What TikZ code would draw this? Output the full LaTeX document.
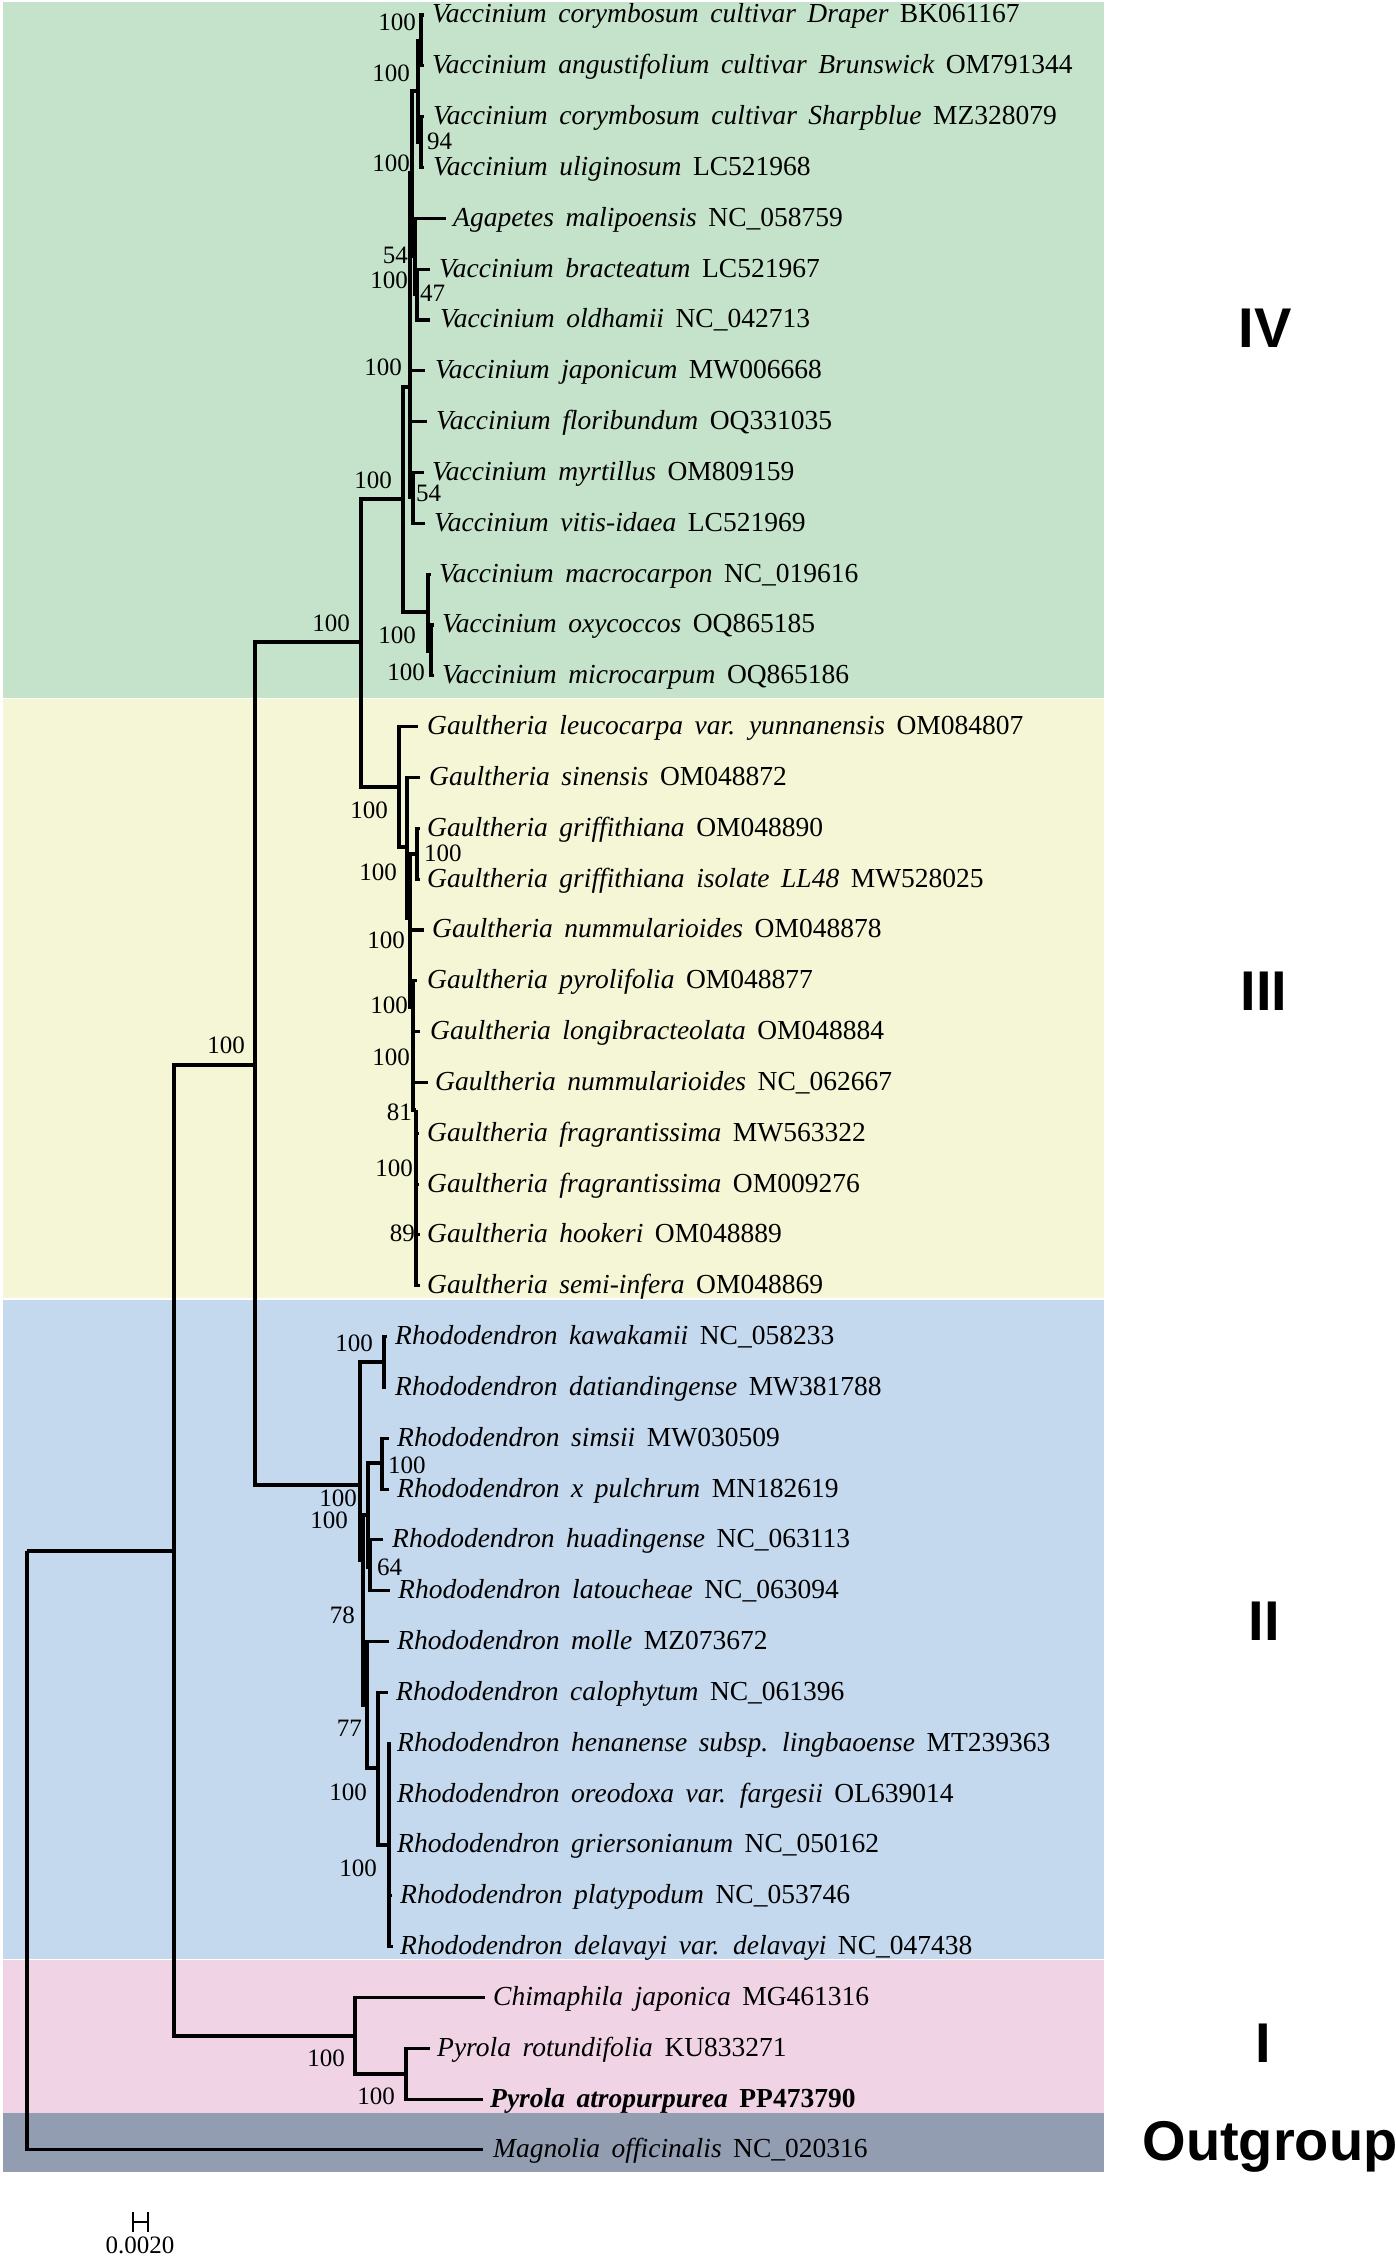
\documentclass[tikz,border=0pt]{standalone}
\usepackage{fontspec}
\setmainfont{Liberation Serif}
\newfontfamily\hvfont{Liberation Sans}
\definecolor{cIV}{RGB}{197,227,203}
\definecolor{cIII}{RGB}{245,246,213}
\definecolor{cII}{RGB}{196,216,238}
\definecolor{cI}{RGB}{240,212,230}
\definecolor{cOut}{RGB}{146,157,178}
\newcommand\leaffont{\fontsize{27.5}{30}\selectfont\spaceskip=0.42em plus 0.05em\relax}
\newcommand\Y[1]{15+50.83*#1}
\newcommand\lfnode[5]{\node[leaf] (#1) at (#2,\Y{#3}+8) {{\itshape #4} #5};}
\tikzset{
  br/.style={line width=3.1pt, line join=miter},
  leaf/.style={anchor=base west, inner sep=0pt, font=\leaffont},
  bs/.style={inner sep=0pt, font=\fontsize{25}{25}\selectfont},
  clade/.style={anchor=base, inner sep=0pt, font=\hvfont\bfseries\fontsize{56}{56}\selectfont},
}
\begin{document}
\begin{tikzpicture}[x=1pt,y=-1pt]
\useasboundingbox (0,0) rectangle (1396,2256);
% background bands
\fill[cIV] (3,2) rectangle (1104,698);
\fill[cIII] (3,699) rectangle (1104,1298);
\fill[cII] (3,1300) rectangle (1104,1959);
\fill[cI] (3,1960) rectangle (1104,2113);
\fill[cOut] (3,2113) rectangle (1104,2172);
% internal nodes
\coordinate (root) at (27,1551);
\coordinate (ING) at (174,1551);
\coordinate (A) at (255,1065);
\coordinate (P) at (355,2036);
\coordinate (B) at (361,642);
\coordinate (R0) at (360,1485);
\coordinate (C) at (403,499);
\coordinate (G0) at (399,787);
\coordinate (D) at (410,387);
\coordinate (E) at (428,612);
\coordinate (NU) at (412,173);
\coordinate (Nmy) at (413,497);
\coordinate (N12) at (418,91);
\coordinate (NAg) at (415,256);
\coordinate (N1) at (421,41);
\coordinate (N2) at (421,142);
\coordinate (Nab) at (417,294);
\coordinate (F) at (431,651);
\coordinate (G1) at (407,847);
\coordinate (G2) at (410,918);
\coordinate (Ngr) at (417,854);
\coordinate (G3) at (413,1007);
\coordinate (G4) at (416,1110);
\coordinate (R1) at (384,1362);
\coordinate (R5) at (363,1560);
\coordinate (R2) at (368,1515);
\coordinate (R3) at (382,1463);
\coordinate (R4) at (370,1567);
\coordinate (R6) at (367,1705);
\coordinate (R7) at (378,1768);
\coordinate (R8) at (389,1845);
\coordinate (PP) at (406,2074);
% tips
\coordinate (t0) at (424,\Y{0});
\coordinate (t1) at (424,\Y{1});
\coordinate (t2) at (424,\Y{2});
\coordinate (t3) at (424,\Y{3});
\coordinate (t4) at (446,\Y{4});
\coordinate (t5) at (430,\Y{5});
\coordinate (t6) at (430,\Y{6});
\coordinate (t7) at (425,\Y{7});
\coordinate (t8) at (427,\Y{8});
\coordinate (t9) at (424,\Y{9});
\coordinate (t10) at (425,\Y{10});
\coordinate (t11) at (431,\Y{11});
\coordinate (t12) at (434,\Y{12});
\coordinate (t13) at (434,\Y{13});
\coordinate (t14) at (418,\Y{14});
\coordinate (t15) at (420,\Y{15});
\coordinate (t16) at (420,\Y{16});
\coordinate (t17) at (420,\Y{17});
\coordinate (t18) at (424,\Y{18});
\coordinate (t19) at (417,\Y{19});
\coordinate (t20) at (420,\Y{20});
\coordinate (t21) at (428,\Y{21});
\coordinate (t22) at (419,\Y{22});
\coordinate (t23) at (419,\Y{23});
\coordinate (t24) at (420,\Y{24});
\coordinate (t25) at (420,\Y{25});
\coordinate (t26) at (387,\Y{26});
\coordinate (t27) at (386,\Y{27});
\coordinate (t28) at (389,\Y{28});
\coordinate (t29) at (389,\Y{29});
\coordinate (t30) at (383,\Y{30});
\coordinate (t31) at (390,\Y{31});
\coordinate (t32) at (389,\Y{32});
\coordinate (t33) at (388,\Y{33});
\coordinate (t34) at (391,\Y{34});
\coordinate (t35) at (390,\Y{35});
\coordinate (t36) at (391,\Y{36});
\coordinate (t37) at (392,\Y{37});
\coordinate (t38) at (393,\Y{38});
\coordinate (t39) at (485,\Y{39});
\coordinate (t40) at (430,\Y{40});
\coordinate (t41) at (483,\Y{41});
\coordinate (t42) at (483,\Y{42});
% branches
\draw[br] (root) |- (ING) (root) |- (t42);
\draw[br] (ING) |- (A) (ING) |- (P);
\draw[br] (A) |- (B) (A) |- (R0);
\draw[br] (B) |- (C) (B) |- (G0);
\draw[br] (C) |- (D) (C) |- (E);
\draw[br] (D) |- (NU) (D) |- (t7) (D) |- (t8) (D) |- (Nmy);
\draw[br] (NU) |- (N12) (NU) |- (NAg);
\draw[br] (N12) |- (N1) (N12) |- (N2);
\draw[br] (N1) |- (t0) (N1) |- (t1);
\draw[br] (N2) |- (t2) (N2) |- (t3);
\draw[br] (NAg) |- (t4) (NAg) |- (Nab);
\draw[br] (Nab) |- (t5) (Nab) |- (t6);
\draw[br] (Nmy) |- (t9) (Nmy) |- (t10);
\draw[br] (E) |- (t11) (E) |- (F);
\draw[br] (F) |- (t12) (F) |- (t13);
\draw[br] (G0) |- (t14) (G0) |- (G1);
\draw[br] (G1) |- (t15) (G1) |- (G2);
\draw[br] (G2) |- (Ngr) (G2) |- (t18) (G2) |- (G3);
\draw[br] (Ngr) |- (t16) (Ngr) |- (t17);
\draw[br] (G3) |- (t19) (G3) |- (t20) (G3) |- (t21) (G3) |- (G4);
\draw[br] (G4) |- (t22) (G4) |- (t23) (G4) |- (t24) (G4) |- (t25);
\draw[br] (R0) |- (R1) (R0) |- (R5);
\draw[br] (R1) |- (t26) (R1) |- (t27);
\draw[br] (R5) |- (R2) (R5) |- (R6);
\draw[br] (R2) |- (R3) (R2) |- (R4);
\draw[br] (R3) |- (t28) (R3) |- (t29);
\draw[br] (R4) |- (t30) (R4) |- (t31);
\draw[br] (R6) |- (t32) (R6) |- (R7);
\draw[br] (R7) |- (t33) (R7) |- (R8);
\draw[br] (R8) |- (t34) (R8) |- (t35) (R8) |- (t36) (R8) |- (t37) (R8) |- (t38);
\draw[br] (P) |- (t39) (P) |- (PP);
\draw[br] (PP) |- (t40) (PP) |- (t41);
% leaf labels
\lfnode{l0}{432}{0}{Vaccinium corymbosum cultivar Draper}{BK061167}
\lfnode{l1}{432}{1}{Vaccinium angustifolium cultivar Brunswick}{OM791344}
\lfnode{l2}{433}{2}{Vaccinium corymbosum cultivar Sharpblue}{MZ328079}
\lfnode{l3}{433}{3}{Vaccinium uliginosum}{LC521968}
\lfnode{l4}{453}{4}{Agapetes malipoensis}{NC\_058759}
\lfnode{l5}{439}{5}{Vaccinium bracteatum}{LC521967}
\lfnode{l6}{440}{6}{Vaccinium oldhamii}{NC\_042713}
\lfnode{l7}{435}{7}{Vaccinium japonicum}{MW006668}
\lfnode{l8}{436}{8}{Vaccinium floribundum}{OQ331035}
\lfnode{l9}{432}{9}{Vaccinium myrtillus}{OM809159}
\lfnode{l10}{434}{10}{Vaccinium vitis-idaea}{LC521969}
\lfnode{l11}{439}{11}{Vaccinium macrocarpon}{NC\_019616}
\lfnode{l12}{442}{12}{Vaccinium oxycoccos}{OQ865185}
\lfnode{l13}{442}{13}{Vaccinium microcarpum}{OQ865186}
\lfnode{l14}{427}{14}{Gaultheria leucocarpa var. yunnanensis}{OM084807}
\lfnode{l15}{429}{15}{Gaultheria sinensis}{OM048872}
\lfnode{l16}{427}{16}{Gaultheria griffithiana}{OM048890}
\lfnode{l17}{427}{17}{Gaultheria griffithiana isolate LL48}{MW528025}
\lfnode{l18}{432}{18}{Gaultheria nummularioides}{OM048878}
\lfnode{l19}{427}{19}{Gaultheria pyrolifolia}{OM048877}
\lfnode{l20}{430}{20}{Gaultheria longibracteolata}{OM048884}
\lfnode{l21}{435}{21}{Gaultheria nummularioides}{NC\_062667}
\lfnode{l22}{427}{22}{Gaultheria fragrantissima}{MW563322}
\lfnode{l23}{427}{23}{Gaultheria fragrantissima}{OM009276}
\lfnode{l24}{427}{24}{Gaultheria hookeri}{OM048889}
\lfnode{l25}{427}{25}{Gaultheria semi-infera}{OM048869}
\lfnode{l26}{395}{26}{Rhododendron kawakamii}{NC\_058233}
\lfnode{l27}{395}{27}{Rhododendron datiandingense}{MW381788}
\lfnode{l28}{397}{28}{Rhododendron simsii}{MW030509}
\lfnode{l29}{397}{29}{Rhododendron x pulchrum}{MN182619}
\lfnode{l30}{392}{30}{Rhododendron huadingense}{NC\_063113}
\lfnode{l31}{398}{31}{Rhododendron latoucheae}{NC\_063094}
\lfnode{l32}{397}{32}{Rhododendron molle}{MZ073672}
\lfnode{l33}{396}{33}{Rhododendron calophytum}{NC\_061396}
\lfnode{l34}{397}{34}{Rhododendron henanense subsp. lingbaoense}{MT239363}
\lfnode{l35}{397}{35}{Rhododendron oreodoxa var. fargesii}{OL639014}
\lfnode{l36}{397}{36}{Rhododendron griersonianum}{NC\_050162}
\lfnode{l37}{400}{37}{Rhododendron platypodum}{NC\_053746}
\lfnode{l38}{400}{38}{Rhododendron delavayi var. delavayi}{NC\_047438}
\lfnode{l39}{493}{39}{Chimaphila japonica}{MG461316}
\lfnode{l40}{437}{40}{Pyrola rotundifolia}{KU833271}
\lfnode{l41}{490}{41}{\bfseries Pyrola atropurpurea}{\textbf{PP473790}}
\lfnode{l42}{493}{42}{Magnolia officinalis}{NC\_020316}
% bootstrap values
\node[bs,anchor=east] (b1) at (416,22) {100};
\node[bs,anchor=east] (b2) at (410,73) {100};
\node[bs,anchor=west] (b3) at (427,141) {94};
\node[bs,anchor=east] (b4) at (410,163) {100};
\node[bs,anchor=east] (b5) at (408,255) {54};
\node[bs,anchor=east] (b6) at (408,280) {100};
\node[bs,anchor=west] (b7) at (420,293) {47};
\node[bs,anchor=east] (b8) at (402,367) {100};
\node[bs,anchor=east] (b9) at (392,480) {100};
\node[bs,anchor=west] (b10) at (416,493) {54};
\node[bs,anchor=east] (b11) at (350,623) {100};
\node[bs,anchor=east] (b12) at (416,635) {100};
\node[bs,anchor=east] (b13) at (425,672) {100};
\node[bs,anchor=east] (b14) at (388,810) {100};
\node[bs,anchor=west] (b15) at (424,853) {100};
\node[bs,anchor=east] (b16) at (397,872) {100};
\node[bs,anchor=east] (b17) at (405,940) {100};
\node[bs,anchor=east] (b18) at (408,1005) {100};
\node[bs,anchor=east] (b19) at (410,1057) {100};
\node[bs,anchor=east] (b20) at (412,1112) {81};
\node[bs,anchor=east] (b21) at (413,1168) {100};
\node[bs,anchor=east] (b22) at (415,1233) {89};
\node[bs,anchor=east] (b23) at (245,1045) {100};
\node[bs,anchor=east] (b24) at (373,1343) {100};
\node[bs,anchor=west] (b25) at (388,1465) {100};
\node[bs,anchor=east] (b26) at (357,1498) {100};
\node[bs,anchor=east] (b27) at (348,1520) {100};
\node[bs,anchor=west] (b28) at (377,1567) {64};
\node[bs,anchor=east] (b29) at (355,1615) {78};
\node[bs,anchor=east] (b30) at (362,1728) {77};
\node[bs,anchor=east] (b31) at (367,1792) {100};
\node[bs,anchor=east] (b32) at (377,1868) {100};
\node[bs,anchor=east] (b33) at (345,2058) {100};
\node[bs,anchor=east] (b34) at (395,2096) {100};
% clade labels
\node[clade] (cl4) at (1265,347) {IV};
\node[clade] (cl3) at (1264,1010) {III};
\node[clade] (cl2) at (1264,1640) {II};
\node[clade] (cl1) at (1263,2062) {I};
\node[clade] (clo) at (1270,2160) {Outgroup};
% scale bar
\coordinate (sbL) at (133,2222);
\coordinate (sbR) at (148,2222);
\draw[line width=2pt] (sbL) -- (sbR);
\draw[line width=2pt] ([yshift=10pt]sbL) -- ([yshift=-10pt]sbL);
\draw[line width=2pt] ([yshift=10pt]sbR) -- ([yshift=-10pt]sbR);
\node[bs] (sbt) at (140,2245) {0.0020};
\end{tikzpicture}
\end{document}
